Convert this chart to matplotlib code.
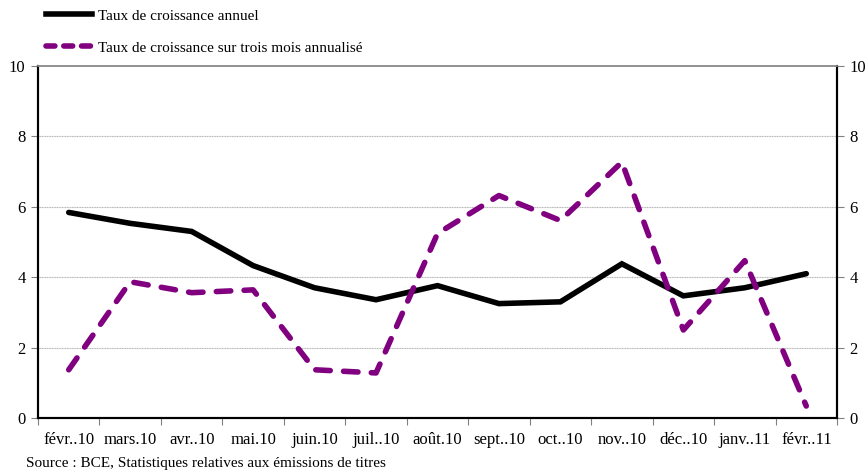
import matplotlib
matplotlib.use('Agg')
import matplotlib.pyplot as plt
from matplotlib.lines import Line2D

plt.rcParams['font.family'] = ['Liberation Serif', 'DejaVu Serif']

mois = ['févr..10', 'mars.10', 'avr..10', 'mai.10', 'juin.10', 'juil..10', 'août.10',
        'sept..10', 'oct..10', 'nov..10', 'déc..10', 'janv..11', 'févr..11']
annuel = [5.84, 5.53, 5.30, 4.33, 3.70, 3.36, 3.76, 3.25, 3.30, 4.38, 3.47, 3.70, 4.10]
trois_mois = [1.37, 3.87, 3.56, 3.64, 1.37, 1.28, 5.24, 6.32, 5.61, 7.27, 2.50, 4.47, 0.34]

lbl_annuel = 'Taux de croissance annuel'
lbl_trois = 'Taux de croissance sur trois mois annualisé'

fig = plt.figure(figsize=(8.68, 4.75), dpi=100)
ax = fig.add_axes([38/868, 57/475, 799/868, 352/475])

x = list(range(len(mois)))
ax.plot(x, annuel, color='black', lw=4, solid_capstyle='round', solid_joinstyle='miter', zorder=3)
ax.plot(x, trois_mois, color='#800080', lw=4, ls=(0, (2.6, 2.4)), dash_capstyle='round', zorder=3)

ax.set_xlim(-0.5, len(mois) - 0.5)
ax.set_ylim(0, 10)
ax.set_yticks([0, 2, 4, 6, 8, 10])
for v in [2, 4, 6, 8]:
    ax.axhline(v, color='#b4b4b4', lw=0.8, ls=(0, (1, 0.5)), zorder=1)

ax.set_xticks(x)
ax.set_xticklabels(mois, fontsize=12)
ax.set_xticks([i - 0.5 for i in range(len(mois) + 1)], minor=True)
ax.tick_params(axis='x', which='major', length=0, pad=10)
ax.tick_params(axis='x', which='minor', length=5, width=0.8, color='#808080')
ax.tick_params(axis='y', labelsize=12, length=5, width=0.8, color='#808080', pad=4)

ax2 = ax.twinx()
ax2.set_ylim(0, 10)
ax2.set_yticks([0, 2, 4, 6, 8, 10])
ax2.tick_params(axis='y', labelsize=12, length=5, width=0.8, color='#808080', pad=4)

for a in (ax, ax2):
    a.spines['top'].set_color('#909090')
    a.spines['top'].set_linewidth(1.2)
    a.spines['left'].set_linewidth(1.5)
    a.spines['right'].set_linewidth(1.5)
    a.spines['bottom'].set_linewidth(1.5)

handles = [Line2D([], [], color='black', lw=4),
           Line2D([], [], color='#800080', lw=4, ls=(0, (1.6, 1.6)), dash_capstyle='round')]
fig.legend(handles, [lbl_annuel, lbl_trois], loc='upper left', bbox_to_anchor=(0.037, 1.01),
           frameon=False, fontsize=11, handlelength=3.0, handletextpad=0.4, labelspacing=1.2)

fig.text(26/868, 11/475, 'Source : BCE, Statistiques relatives aux émissions de titres',
         fontsize=11, va='center')

fig.savefig('out.png', dpi=100)
